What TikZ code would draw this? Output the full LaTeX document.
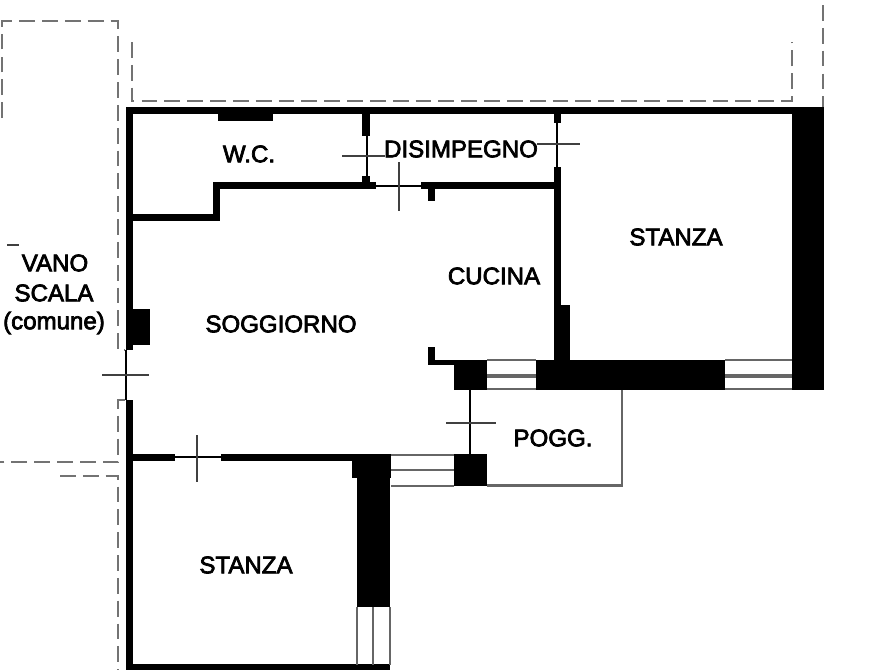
\documentclass[tikz,border=0pt]{standalone}
\usepackage{fontspec}
\setmainfont{Liberation Sans}
\newfontfamily\roomfont[FakeBold=3]{Liberation Sans}
\tikzstyle{wall} = [fill=black, draw=none]
\tikzstyle{thin} = [draw=black, line width=1.3pt]
\tikzstyle{tick} = [draw=black!75, line width=1pt]
\tikzstyle{glass} = [draw=black!60, line width=1.2pt]
\tikzstyle{outline} = [draw=black!55, line width=1.6pt, dash pattern=on 9pt off 4pt]
\tikzstyle{room} = [inner sep=0pt, font=\roomfont\fontsize{13.7pt}{16pt}\selectfont]

\begin{document}
\begin{tikzpicture}[x=.02cm,y=-.02cm]
    \useasboundingbox (0,0) rectangle (893,670);

    \draw[outline] (2,118) -- (2,21) -- (118,21) -- (118,350) -- (125,350);
    \draw[outline] (125,400) -- (118,400) -- (118,462) -- (0,462);
    \draw[outline] (60,476) -- (118,476) -- (118,670);
    \draw[outline] (132,42) -- (132,101) -- (792,101) -- (792,42);
    \draw[outline] (823,5) -- (823,107);
    \draw[tick] (7,245) -- (19,245);

    \fill[wall] (126,107) rectangle (824,114);
    \fill[wall] (126,107) rectangle (133,350);
    \fill[wall] (133,309) rectangle (150,345);
    \fill[wall] (218,114) rectangle (273,121);
    \fill[wall] (362,114) rectangle (370,136);
    \fill[wall] (362,176) rectangle (370,183);
    \fill[wall] (213,182) rectangle (376,189);
    \fill[wall] (213,182) rectangle (220,221);
    \fill[wall] (133,214) rectangle (220,221);
    \fill[wall] (421,182) rectangle (561,189);
    \fill[wall] (428,189) rectangle (435,201);
    \fill[wall] (554,114) rectangle (561,123);
    \fill[wall] (554,167) rectangle (561,360);
    \fill[wall] (554,305) rectangle (570,360);
    \fill[wall] (792,107) rectangle (824,390);
    \fill[wall] (428,347) rectangle (435,365);
    \fill[wall] (428,360) rectangle (454,365);
    \fill[wall] (454,360) rectangle (487,390);
    \fill[wall] (536,360) rectangle (725,390);
    \fill[wall] (454,454) rectangle (487,486);
    \fill[wall] (126,400) rectangle (133,670);
    \fill[wall] (133,454) rectangle (175,461);
    \fill[wall] (221,454) rectangle (352,461);
    \fill[wall] (352,454) rectangle (391,478);
    \fill[wall] (357,454) rectangle (390,607);
    \fill[wall] (126,664) rectangle (390,670);

    \draw[thin] (126,350) -- (126,400);
    \draw[thin] (367,136) -- (367,176);
    \draw[thin] (376,186) -- (421,186);
    \draw[thin] (557,123) -- (557,167);
    \draw[thin] (175,457) -- (221,457);
    \draw[thin] (470,390) -- (470,454);

    \foreach \y in {360,375,377,389} {
        \draw[glass] (487,\y) -- (536,\y);
        \draw[glass] (725,\y) -- (792,\y);
    }
    \foreach \y in {455,470,486}
        \draw[glass] (391,\y) -- (454,\y);
    \foreach \x in {357,373,390}
        \draw[glass] (\x,607) -- (\x,665);
    \draw[glass,line width=1.7pt] (487,485) -- (622,485) -- (622,390);

    \draw[tick] (342,156) -- (385,156);
    \draw[tick] (399,162) -- (399,211);
    \draw[tick] (537,144) -- (580,144);
    \draw[tick] (102,375) -- (149,375);
    \draw[tick] (446,423) -- (496,423);
    \draw[tick] (197,435) -- (197,482);

    \node[room] (wc) at (249,154) {W.C.};
    \node[room] (disimpegno) at (461,149) {DISIMPEGNO};
    \node[room] (stanzaA) at (676,237) {STANZA};
    \node[room] (cucina) at (494,276) {CUCINA};
    \node[room] (soggiorno) at (281,324) {SOGGIORNO};
    \node[room] (vano) at (55,263) {VANO};
    \node[room] (scala) at (54,293) {SCALA};
    \node[room] (comune) at (54,323) {(comune)};
    \node[room] (pogg) at (553,438) {POGG.};
    \node[room] (stanzaB) at (246,565) {STANZA};
\end{tikzpicture}
\end{document}
